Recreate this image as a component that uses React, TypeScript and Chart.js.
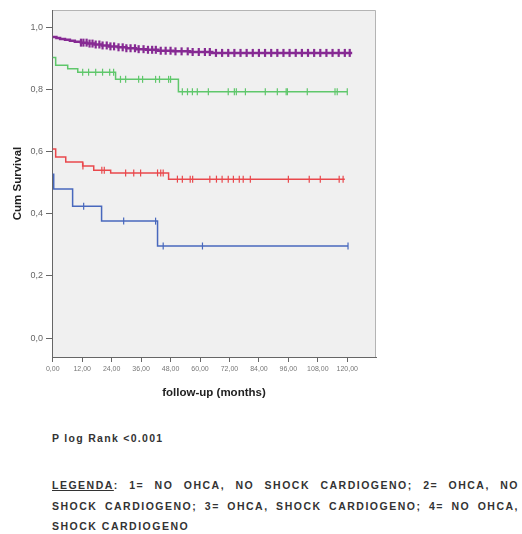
import React, { useEffect, useRef } from 'react';
import { Chart, registerables } from 'chart.js';

Chart.register(...registerables);

// ---- axis ticks ----
const xTickValues = [0, 12, 24, 36, 48, 60, 72, 84, 96, 108, 120];
const xTickLabels = ['0,00', '12,00', '24,00', '36,00', '48,00', '60,00', '72,00', '84,00', '96,00', '108,00', '120,00'];
const yTickValues = [0, 0.2, 0.4, 0.6, 0.8, 1.0];
const yTickLabels = ['0,0', '0,2', '0,4', '0,6', '0,8', '1,0'];

// ---- group 1: NO OHCA, NO SHOCK (purple) ----
const g1Times = [0, 1.5, 3, 5, 7, 9, 11.5, 14, 17, 20, 23, 26.5, 30, 34, 38, 43, 49, 56, 65];
const g1Surv = [0.968, 0.965, 0.962, 0.959, 0.956, 0.953, 0.95, 0.947, 0.944, 0.941, 0.938, 0.935, 0.932, 0.929, 0.927, 0.924, 0.922, 0.92, 0.917];
const g1End = 122;
const g1Censor = [11.5, 12.5, 13.8, 15, 16.2, 17.5, 19, 20.3, 22, 23.5, 25, 26.8, 28.5, 30, 31.7, 33.5, 35, 37, 38.8, 40.5, 42, 44, 46, 48, 50, 52.5, 55, 57, 59.5, 62, 64, 66.5, 69, 71.5, 74, 76.5, 79, 81.5, 84, 86.5, 89, 91.5, 94, 96.5, 99, 101.5, 104, 106.5, 109, 111.5, 114, 116.5, 119, 121];

// ---- group 2: OHCA, NO SHOCK (green) ----
const g2Times = [0, 1.2, 6.1, 10.2, 25.6, 51.2];
const g2Surv = [0.902, 0.877, 0.866, 0.855, 0.832, 0.792];
const g2End = 120;
const g2Censor = [12.2, 14.6, 17.5, 20.3, 23.2, 24.8, 27.6, 29.7, 35, 36.6, 41.9, 43.5, 47.2, 48, 52.8, 54.9, 56.9, 58.9, 63.4, 71.5, 74, 74.8, 78.5, 86.6, 91.5, 95.1, 95.6, 103.7, 115, 115.9, 120];

// ---- group 3: OHCA, SHOCK (red) ----
const g3Times = [0, 1.2, 5.3, 12.2, 16.7, 23.6, 47.2];
const g3Surv = [0.608, 0.582, 0.566, 0.553, 0.54, 0.531, 0.511];
const g3End = 119;
const g3Censor = [12.3, 20, 21, 29.7, 33, 35.8, 42.7, 44, 45, 50.8, 52.8, 56, 57, 64, 66.7, 69, 71.5, 73.6, 76, 77.6, 80.5, 96, 104.5, 109, 116.7, 118.3];

// ---- group 4: NO OHCA, SHOCK (blue) ----
const g4Times = [0, 0.4, 8.1, 19.9, 42.7];
const g4Surv = [0.527, 0.479, 0.424, 0.376, 0.296];
const g4End = 120.3;
const g4Censor = [12.6, 28.9, 41.9, 45, 61, 120.3];

const COLORS = ['#862a93', '#5fc76b', '#e9484c', '#4868bd'];

// ---- notes under the chart ----
const pText = 'P log Rank <0.001';
const legendLines = [
  ': 1= NO OHCA, NO SHOCK CARDIOGENO; 2= OHCA, NO',
  'SHOCK CARDIOGENO; 3= OHCA, SHOCK CARDIOGENO; 4= NO OHCA,',
  'SHOCK CARDIOGENO',
];

function survAt(times: number[], surv: number[], t: number) {
  let v = surv[0];
  for (let i = 0; i < times.length; i++) {
    if (times[i] <= t) v = surv[i];
  }
  return v;
}

function curve(times: number[], surv: number[], end: number) {
  const pts = times.map((t, i) => ({ x: t, y: surv[i] }));
  pts.push({ x: end, y: surv[surv.length - 1] });
  return pts;
}

function marks(times: number[], surv: number[], cens: number[]) {
  return cens.map((t) => ({ x: t, y: survAt(times, surv, t) }));
}

const bgPlugin = {
  id: 'plotBg',
  beforeDraw(chart: any) {
    const { ctx, chartArea } = chart;
    const { left, top, right, bottom } = chartArea;
    ctx.save();
    ctx.fillStyle = '#f0f0f0';
    ctx.fillRect(left, top, right - left, bottom - top);
    ctx.strokeStyle = '#b4b4b4';
    ctx.lineWidth = 1;
    ctx.beginPath();
    ctx.moveTo(left, top + 0.5);
    ctx.lineTo(right - 0.5, top + 0.5);
    ctx.lineTo(right - 0.5, bottom);
    ctx.stroke();
    ctx.restore();
  },
  afterDraw(chart: any) {
    const { ctx, chartArea } = chart;
    ctx.save();
    ctx.fillStyle = '#222';
    ctx.textAlign = 'center';
    ctx.textBaseline = 'middle';
    ctx.font = 'bold 11.5px "Liberation Sans", Arial, sans-serif';
    ctx.fillText('follow-up (months)', (chartArea.left + chartArea.right) / 2, 393);
    ctx.translate(18, (chartArea.top + chartArea.bottom) / 2);
    ctx.rotate(-Math.PI / 2);
    ctx.font = 'bold 11.5px "Liberation Sans", Arial, sans-serif';
    ctx.fillText('Cum Survival', 0, 0);
    ctx.restore();
  },
};

function lineDs(label: string, data: any[], color: string, width: number) {
  return {
    type: 'line' as const,
    label,
    data,
    borderColor: color,
    backgroundColor: color,
    borderWidth: width,
    stepped: 'before' as const,
    pointRadius: 0,
    fill: false,
  };
}

function markDs(label: string, data: any[], color: string, r: number, w: number) {
  return {
    type: 'scatter' as const,
    label,
    data,
    borderColor: color,
    backgroundColor: color,
    pointStyle: 'line' as const,
    rotation: 90,
    pointRadius: r,
    pointBorderWidth: w,
    showLine: false,
  };
}

export default function App() {
  const ref = useRef<HTMLCanvasElement | null>(null);
  useEffect(() => {
    if (!ref.current) return;
    const chart = new Chart(ref.current, {
      type: 'line',
      data: {
        datasets: [
          lineDs('4', curve(g4Times, g4Surv, g4End), COLORS[3], 1.5),
          markDs('4c', marks(g4Times, g4Surv, g4Censor), COLORS[3], 3.5, 1.2),
          lineDs('3', curve(g3Times, g3Surv, g3End), COLORS[2], 1.5),
          markDs('3c', marks(g3Times, g3Surv, g3Censor), COLORS[2], 3.5, 1.2),
          lineDs('2', curve(g2Times, g2Surv, g2End), COLORS[1], 1.5),
          markDs('2c', marks(g2Times, g2Surv, g2Censor), COLORS[1], 3.5, 1.2),
          lineDs('1', curve(g1Times, g1Surv, g1End), COLORS[0], 2.5),
          markDs('1c', marks(g1Times, g1Surv, g1Censor), COLORS[0], 4, 2.2),
        ] as any,
      },
      options: {
        animation: false,
        responsive: false,
        maintainAspectRatio: false,
        layout: { padding: { left: 0, right: 146, top: 10, bottom: 0 } },
        plugins: { legend: { display: false }, tooltip: { enabled: false } },
        scales: {
          x: {
            type: 'linear',
            min: -0.3,
            max: 131.7,
            afterFit(scale: any) { scale.height = 63; },
            afterBuildTicks(scale: any) { scale.ticks = xTickValues.map((v) => ({ value: v })); },
            grid: { drawOnChartArea: false, drawTicks: true, tickLength: 5, color: '#666' },
            border: { display: true, color: '#666', width: 1 },
            ticks: {
              autoSkip: false,
              maxRotation: 0,
              padding: 3,
              color: '#777',
              font: { size: 7, family: '"Liberation Sans", Arial, sans-serif' },
              callback: (v: any) => { const i = xTickValues.indexOf(Number(v)); return i >= 0 ? xTickLabels[i] : ''; },
            },
          },
          y: {
            type: 'linear',
            min: -0.061,
            max: 1.055,
            afterFit(scale: any) { scale.width = 52; },
            afterBuildTicks(scale: any) { scale.ticks = yTickValues.map((v) => ({ value: v })); },
            grid: { drawOnChartArea: false, drawTicks: true, tickLength: 6, color: '#666' },
            border: { display: true, color: '#666', width: 1 },
            ticks: {
              padding: 3,
              color: '#666',
              font: { size: 9, family: '"Liberation Sans", Arial, sans-serif' },
              callback: (v: any) => {
                const i = yTickValues.findIndex((t) => Math.abs(t - Number(v)) < 1e-6);
                return i >= 0 ? yTickLabels[i] : '';
              },
            },
          },
        },
      },
      plugins: [bgPlugin],
    });
    return () => chart.destroy();
  }, []);

  const textStyle: React.CSSProperties = {
    fontFamily: '"Liberation Sans", Arial, sans-serif',
    fontWeight: 'bold',
    color: '#333',
    position: 'absolute',
    left: 52,
  };
  const lineStyle: React.CSSProperties = {
    width: 467,
    height: 20.5,
    fontSize: 10.5,
    lineHeight: '20.5px',
    letterSpacing: '1.5px',
  };

  return (
    <div style={{ position: 'absolute', left: 0, top: 0, width: 522, height: 534, background: '#fff', overflow: 'hidden' }}>
      <canvas ref={ref} width={522} height={420} style={{ position: 'absolute', left: 0, top: 0, width: 522, height: 420 }} />
      <div style={{ ...textStyle, top: 431, fontSize: 10.5, lineHeight: '14px', letterSpacing: '1.3px', whiteSpace: 'nowrap' }}>
        {pText}
      </div>
      <div style={{ ...textStyle, top: 475 }}>
        <div style={{ ...lineStyle, textAlign: 'justify', textAlignLast: 'justify' } as React.CSSProperties}>
          <span style={{ textDecoration: 'underline' }}>LEGENDA</span>{legendLines[0]}
        </div>
        <div style={{ ...lineStyle, textAlign: 'justify', textAlignLast: 'justify' } as React.CSSProperties}>
          {legendLines[1]}
        </div>
        <div style={{ ...lineStyle }}>{legendLines[2]}</div>
      </div>
    </div>
  );
}
